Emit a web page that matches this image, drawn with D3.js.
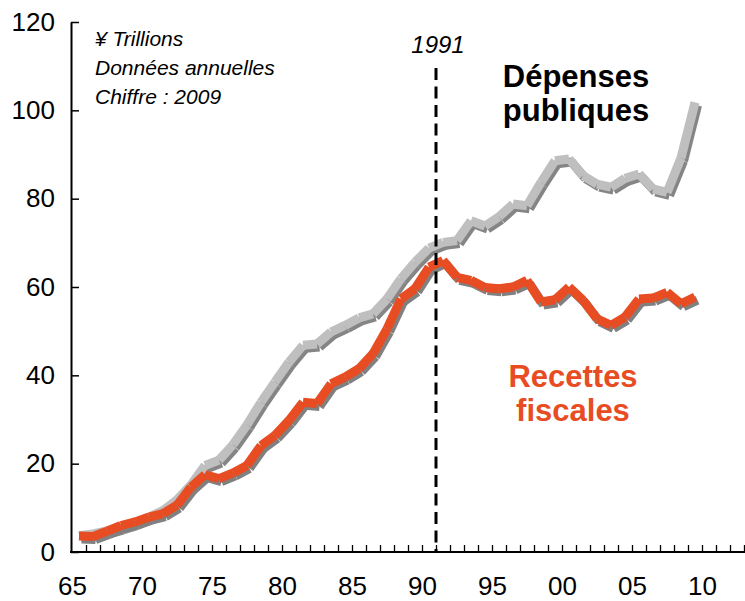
<!DOCTYPE html>
<html>
<head>
<meta charset="utf-8">
<script src="https://cdn.jsdelivr.net/npm/d3@7"></script>
<style>
  html, body { margin: 0; padding: 0; background: #fff; }
  svg { display: block; font-family: "Liberation Sans", Arial, sans-serif; }
</style>
</head>
<body>
<svg id="chart" width="745" height="601"></svg>
<script>
// Fiscal years, ¥ trillions
const years = [1965, 1966, 1967, 1968, 1969, 1970, 1971, 1972, 1973, 1974,
  1975, 1976, 1977, 1978, 1979, 1980, 1981, 1982, 1983, 1984,
  1985, 1986, 1987, 1988, 1989, 1990, 1991, 1992, 1993, 1994,
  1995, 1996, 1997, 1998, 1999, 2000, 2001, 2002, 2003, 2004,
  2005, 2006, 2007, 2008, 2009];

const depenses = [3.7, 4.1, 4.8, 5.7, 6.7, 7.9, 9.4, 11.8, 15.2, 19.6,
  20.8, 24.3, 28.8, 33.9, 38.5, 43.0, 46.8, 47.1, 49.8, 51.3,
  53.0, 53.9, 57.3, 61.9, 65.6, 68.8, 70.1, 70.5, 75.0, 73.8,
  75.9, 78.8, 78.4, 83.7, 88.6, 89.0, 85.2, 83.3, 82.6, 84.6,
  85.6, 82.2, 81.4, 89.2, 101.8];

const recettes = [3.6, 3.5, 4.7, 6.0, 6.8, 7.9, 8.7, 10.6, 14.7, 17.5,
  16.6, 17.9, 19.6, 24.1, 26.4, 29.8, 33.9, 33.6, 38.1, 39.6,
  41.5, 44.9, 50.5, 57.3, 59.6, 64.5, 66.0, 62.2, 61.5, 59.9,
  59.6, 60.0, 61.5, 56.6, 57.1, 60.0, 57.0, 52.8, 51.3, 53.2,
  57.3, 57.5, 58.8, 56.2, 57.7];

const yTicks = [0, 20, 40, 60, 80, 100, 120];
const xLabelYears = [1965, 1970, 1975, 1980, 1985, 1990, 1995, 2000, 2005, 2010];
const xLabels = ["65", "70", "75", "80", "85", "90", "95", "00", "05", "10"];
const minorYears = [1966, 1967, 1968, 1969, 1970, 1971, 1972, 1973, 1974, 1975,
  1976, 1977, 1978, 1979, 1980, 1981, 1982, 1983, 1984, 1985,
  1986, 1987, 1988, 1989, 1990, 1991, 1992, 1993, 1994, 1995,
  1996, 1997, 1998, 1999, 2000, 2001, 2002, 2003, 2004, 2005,
  2006, 2007, 2008, 2009, 2010, 2011, 2012, 2013];
const markerYear = 1991;
const noteLines = ["¥ Trillions", "Données annuelles", "Chiffre : 2009"];

const svg = d3.select("#chart");

const x = d3.scaleLinear().domain([1965, 2013]).range([72, 744]);
const y = d3.scaleLinear().domain([0, 120]).range([552, 22]);

// each fiscal year sits in the middle of its year slot
const px = yr => x(yr + 0.5);

// y axis: ticks point inward, labels to the left
const yAxis = d3.axisLeft(y)
  .tickValues(yTicks)
  .tickSizeInner(-8)
  .tickSizeOuter(0)
  .tickPadding(16)
  .tickFormat(d3.format("d"));

const gy = svg.append("g")
  .attr("transform", `translate(${x(1965) - 1},0)`)
  .call(yAxis);
gy.select(".domain").attr("stroke", "#000").attr("stroke-width", 2);
gy.selectAll(".tick line").attr("stroke", "#000").attr("stroke-width", 1.5);
gy.selectAll(".tick text").attr("font-size", 26).attr("fill", "#000")
  .attr("font-family", "'Liberation Sans', Arial, sans-serif");

// x axis: one tick per year, pointing up
const xMinor = d3.axisBottom(x)
  .tickValues(minorYears)
  .tickSizeInner(-7)
  .tickSizeOuter(0)
  .tickFormat("");
const gxm = svg.append("g")
  .attr("transform", `translate(0,${y(0)})`)
  .call(xMinor);
gxm.select(".domain").attr("stroke", "#000").attr("stroke-width", 2)
  .attr("d", `M${x(1965) - 2},0H745`);
gxm.selectAll(".tick line").attr("stroke", "#000").attr("stroke-width", 1.3);

// x labels every five years
const xMajor = d3.axisBottom(x)
  .tickValues(xLabelYears)
  .tickSize(0)
  .tickPadding(25)
  .tickFormat((d, i) => xLabels[i]);
const gxl = svg.append("g")
  .attr("transform", `translate(0,${y(0)})`)
  .call(xMajor);
gxl.select(".domain").remove();
gxl.selectAll(".tick text").attr("font-size", 26).attr("fill", "#000")
  .attr("font-family", "'Liberation Sans', Arial, sans-serif");

// thick series lines drawn segment by segment with a drop shadow
const segLine = d3.line().x(d => px(d[0])).y(d => y(d[1]));

function drawSeries(values, color, shadow) {
  const pts = years.map((yr, i) => [yr, values[i]]);
  const segs = d3.pairs(pts);
  const g = svg.append("g");
  g.append("g")
    .attr("transform", "translate(2.5,3)")
    .selectAll("path").data(segs).join("path")
    .attr("d", segLine)
    .attr("fill", "none")
    .attr("stroke", shadow)
    .attr("stroke-width", 9)
    .attr("stroke-linecap", "butt");
  g.append("g")
    .selectAll("path").data(segs).join("path")
    .attr("d", segLine)
    .attr("fill", "none")
    .attr("stroke", color)
    .attr("stroke-width", 9)
    .attr("stroke-linecap", "butt");
}

drawSeries(depenses, "#BFBFBF", "#858585");
drawSeries(recettes, "#E84C22", "#808080");

// 1991 marker
svg.append("line")
  .attr("x1", x(markerYear)).attr("x2", x(markerYear))
  .attr("y1", 68).attr("y2", y(0))
  .attr("stroke", "#000")
  .attr("stroke-width", 3)
  .attr("stroke-dasharray", "12,6.5");

svg.append("text")
  .attr("x", x(markerYear) + 2).attr("y", 53)
  .attr("text-anchor", "middle")
  .attr("font-size", 24)
  .attr("font-style", "italic")
  .text(String(markerYear));

// units / source note
svg.append("g").selectAll("text").data(noteLines).join("text")
  .attr("x", 95)
  .attr("y", (d, i) => 46 + i * 29)
  .attr("font-size", 21)
  .attr("font-style", "italic")
  .attr("fill", "#000")
  .text(d => d);

// series labels
svg.append("g").selectAll("text").data(["Dépenses", "publiques"]).join("text")
  .attr("x", 576)
  .attr("y", (d, i) => 87 + i * 34)
  .attr("text-anchor", "middle")
  .attr("font-size", 31)
  .attr("font-weight", "bold")
  .attr("fill", "#000")
  .text(d => d);

svg.append("g").selectAll("text").data(["Recettes", "fiscales"]).join("text")
  .attr("x", 573)
  .attr("y", (d, i) => 387 + i * 34)
  .attr("text-anchor", "middle")
  .attr("font-size", 31)
  .attr("font-weight", "bold")
  .attr("fill", "#E84C22")
  .text(d => d);
</script>
</body>
</html>
